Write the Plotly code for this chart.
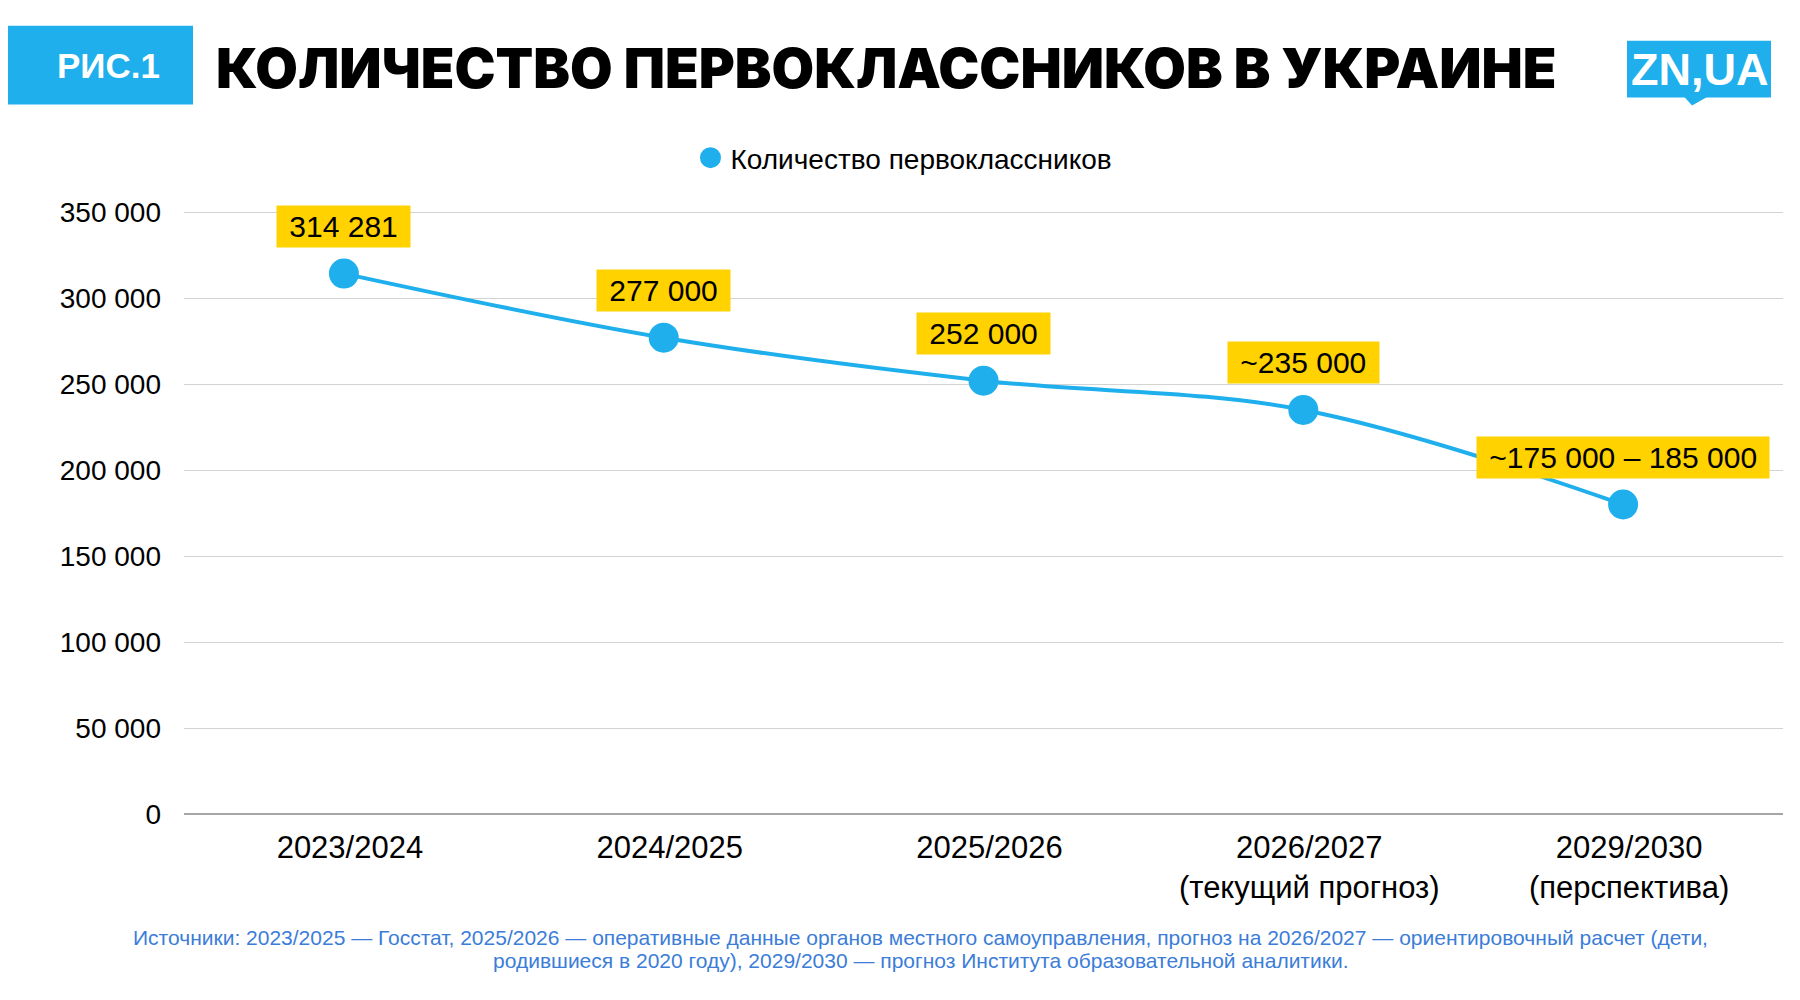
import plotly.graph_objects as go

# data
years = ["2023/2024", "2024/2025", "2025/2026",
         "2026/2027<br>(текущий прогноз)", "2029/2030<br>(перспектива)"]
pupils = [314281, 277000, 252000, 235000, 180000]
point_labels = ["314 281", "277 000", "252 000", "~235 000", "~175 000 – 185 000"]
y_ticks = [0, 50000, 100000, 150000, 200000, 250000, 300000, 350000]
sources = [
    "Источники: 2023/2025 — Госстат, 2025/2026 — оперативные данные органов местного самоуправления, "
    "прогноз на 2026/2027 — ориентировочный расчет (дети,",
    "родившиеся в 2020 году), 2029/2030 — прогноз Института образовательной аналитики.",
]

BLUE = "#1fafed"
YELLOW = "#ffd200"
FONT = "Liberation Sans, Arial, sans-serif"

# page has an 8px body margin, figure sits inside it
OFF = 8
W, H = 1800 - OFF, 1000 - OFF
L, R, T, B = 184 - OFF, 1783 - OFF, 192 - OFF, 814 - OFF


def px_x(px):
    # page pixel -> paper x
    return (px - OFF - L) / (R - L)


def px_y(py):
    return (B - (py - OFF)) / (B - T)


fig = go.Figure()

fig.add_trace(go.Scatter(
    x=years, y=pupils, mode="lines", line=dict(color=BLUE, width=4, shape="spline"),
    showlegend=False, hoverinfo="skip"
))
fig.add_trace(go.Scatter(
    x=years, y=pupils, mode="markers", name="Количество первоклассников",
    marker=dict(color=BLUE, size=25, line=dict(color=BLUE, width=5))
))

for x, y, t in zip(years, pupils, point_labels):
    fig.add_annotation(
        x=x, y=y, text="\u00a0" + t + "\u00a0", showarrow=False, yshift=47,
        font=dict(family=FONT, size=30, color="black"),
        bgcolor=YELLOW, borderpad=4
    )

# header block
fig.add_shape(type="rect", xref="paper", yref="paper",
              x0=px_x(0), x1=px_x(193), y0=px_y(101), y1=px_y(22),
              fillcolor=BLUE, line_width=0, layer="below")
fig.add_annotation(xref="paper", yref="paper", x=px_x(108), y=px_y(62),
                   xanchor="center", yanchor="middle",
                   text="<b>РИС.1</b>", showarrow=False,
                   font=dict(family=FONT, size=35, color="white"))

# logo
fig.add_shape(type="rect", xref="paper", yref="paper",
              x0=px_x(1627), x1=px_x(1771), y0=px_y(94), y1=px_y(37),
              fillcolor=BLUE, line_width=0, layer="below")
fig.add_shape(type="path", xref="paper", yref="paper",
              path="M {} {} L {} {} L {} {} Z".format(px_x(1684), px_y(93), px_x(1708), px_y(93),
                                                     px_x(1692), px_y(102)),
              fillcolor=BLUE, line_width=0, layer="below")
fig.add_annotation(xref="paper", yref="paper", x=px_x(1699), y=px_y(66),
                   xanchor="center", yanchor="middle",
                   text="<b>ZN,UA</b>", showarrow=False,
                   font=dict(family=FONT, size=45, color="white"))

# sources
for i, line in enumerate(sources):
    fig.add_annotation(
        xref="paper", yref="paper", x=px_x(920), y=px_y(938 + 23 * i),
        xanchor="center", yanchor="middle",
        text=line, showarrow=False,
        font=dict(family=FONT, size=21, color="#3b7dd8")
    )

fig.update_layout(
    width=W, height=H,
    margin=dict(l=L, r=W - R, t=T, b=H - B),
    paper_bgcolor="white", plot_bgcolor="white",
    separators=", ",
    font=dict(family=FONT, size=28, color="black"),
    title=dict(
        text="КОЛИЧЕСТВО ПЕРВОКЛАССНИКОВ В УКРАИНЕ",
        xref="container", yref="container", x=(216 - OFF) / W, xanchor="left",
        y=1 - (69 - OFF) / H, yanchor="middle",
        font=dict(family="Inter, Roboto, sans-serif", size=55,
                  weight=900, color="black")
    ),
    legend=dict(
        orientation="h", xref="container", yref="container",
        x=0.5, xanchor="center", y=1 - (158 - OFF) / H, yanchor="middle",
        font=dict(size=28), itemsizing="trace"
    ),
    hovermode=False,
)

fig.update_xaxes(
    type="category", range=[-0.5, 4.5], showgrid=False, showline=False,
    ticks="", ticklabelstandoff=12, ticklabelshift=6, tickfont=dict(size=31)
)
fig.update_yaxes(
    range=[0, 360000], tickvals=y_ticks, tickformat=",d",
    gridcolor="#d3d3d3", gridwidth=1,
    zeroline=True, zerolinecolor="#a6a6a6", zerolinewidth=2,
    showline=False, ticks="", ticklabelstandoff=22, tickfont=dict(size=28)
)

fig.write_html("out.html")
